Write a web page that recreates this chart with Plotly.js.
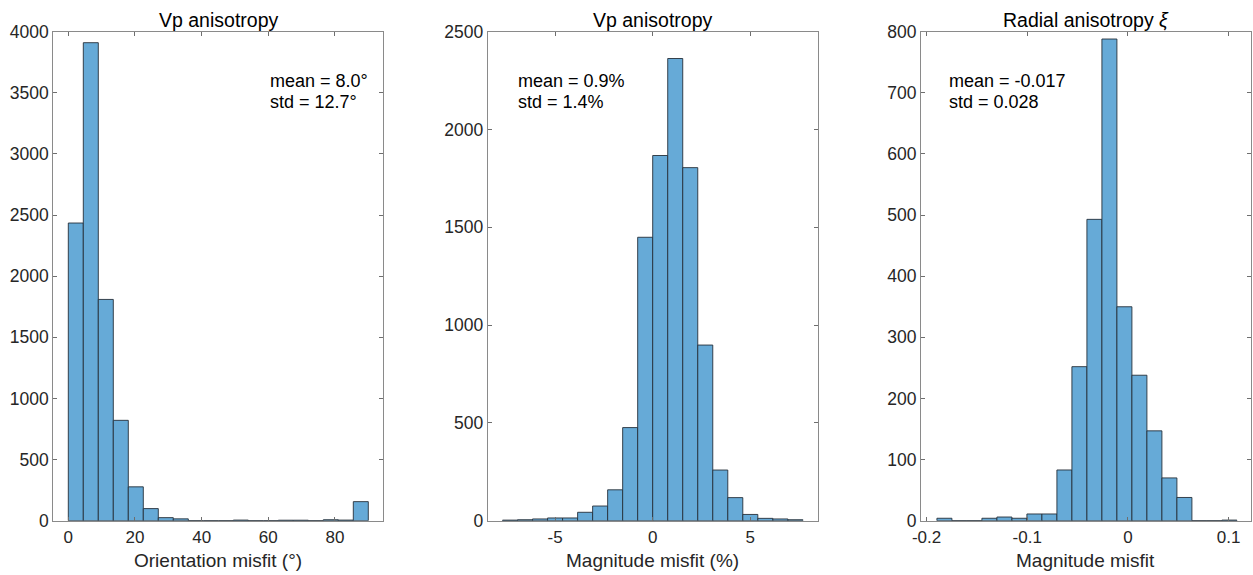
<!DOCTYPE html>
<html>
<head>
<meta charset="utf-8">
<script src="https://cdn.plot.ly/plotly-3.0.1.min.js"></script>
<style>html,body{margin:0;padding:0;background:#fff}#chart{width:1253px;height:575px}</style>
</head>
<body>
<div id="chart"></div>
<script>
// ---- Data ----
const titles = ["Vp anisotropy", "Vp anisotropy", "Radial anisotropy <i>ξ</i>"];
const xLabels = ["Orientation misfit (°)", "Magnitude misfit (%)", "Magnitude misfit"];
const statsMean = ["mean = 8.0°", "mean = 0.9%", "mean = -0.017"];
const statsStd = ["std = 12.7°", "std = 1.4%", "std = 0.028"];

// Panel 1: orientation misfit histogram (degrees)
const orientEdges = [0, 4.5, 9, 13.5, 18, 22.5, 27, 31.5, 36, 40.5, 45, 49.5, 54, 58.5, 63, 67.5, 72, 76.5, 81, 85.5, 90];
const orientCounts = [2435, 3910, 1810, 821, 277, 99, 25, 15, 0, 0, 0, 5, 0, 0, 4, 4, 0, 8, 5, 156];

// Panel 2: Vp magnitude misfit histogram (%)
const vpEdges = [-7.7, -6.93, -6.16, -5.39, -4.62, -3.85, -3.08, -2.31, -1.54, -0.77, 0, 0.77, 1.54, 2.31, 3.08, 3.85, 4.62, 5.39, 6.16, 6.93, 7.7];
const vpCounts = [3, 5, 9, 14, 14, 43, 75, 158, 476, 1449, 1867, 2363, 1805, 898, 259, 118, 32, 12, 9, 5];

// Panel 3: radial anisotropy magnitude misfit histogram
const xiEdges = [-0.1897, -0.1748, -0.1599, -0.145, -0.1301, -0.1152, -0.1003, -0.0854, -0.0705, -0.0556, -0.0407, -0.0258, -0.0109, 0.004, 0.0189, 0.0338, 0.0487, 0.0636, 0.0785, 0.0934, 0.1083];
const xiCounts = [4, 0, 0, 4, 6, 4, 11, 11, 83, 252, 493, 788, 350, 238, 147, 70, 38, 0, 0, 1];

// Axis ticks
const xTicks = [[0, 20, 40, 60, 80], [-5, 0, 5], [-0.2, -0.1, 0, 0.1]];
const xTickText = [["0", "20", "40", "60", "80"], ["-5", "0", "5"], ["-0.2", "-0.1", "0", "0.1"]];
const yTicks = [[0, 500, 1000, 1500, 2000, 2500, 3000, 3500, 4000], [0, 500, 1000, 1500, 2000, 2500], [0, 100, 200, 300, 400, 500, 600, 700, 800]];
const xRanges = [[-4.5, 94.5], [-8.46, 8.46], [-0.2056, 0.1222]];
const yRanges = [[0, 4000], [0, 2500], [0, 800]];

// ---- Build ----
const W = 1253, H = 575;
const FONT = "Liberation Sans, Arial, Helvetica, sans-serif";
const TXT = "#262626";
const plotLeft = [53.3, 487.7, 920.9];
const plotW = 330, plotTop = 31.7, plotBottom = 520.7;
const statX = [268, 516, 946.5];

function barTrace(edges, counts, i) {
  const x = [], w = [];
  for (let k = 0; k < counts.length; k++) {
    x.push((edges[k] + edges[k + 1]) / 2);
    w.push(edges[k + 1] - edges[k]);
  }
  return {
    type: "bar", x: x, y: counts, width: w,
    xaxis: i === 0 ? "x" : "x" + (i + 1),
    yaxis: i === 0 ? "y" : "y" + (i + 1),
    marker: {color: "rgb(102,170,215)", line: {color: "rgb(38,48,58)", width: 0.9}},
    hoverinfo: "x+y", showlegend: false
  };
}

const data = [
  barTrace(orientEdges, orientCounts, 0),
  barTrace(vpEdges, vpCounts, 1),
  barTrace(xiEdges, xiCounts, 2)
];

const layout = {
  width: W, height: H,
  margin: {l: 0, r: 0, t: 0, b: 0},
  paper_bgcolor: "#fff", plot_bgcolor: "#fff",
  bargap: 0,
  font: {family: FONT, size: 18, color: TXT},
  showlegend: false,
  annotations: []
};

for (let i = 0; i < 3; i++) {
  const sfx = i === 0 ? "" : String(i + 1);
  const d0 = plotLeft[i] / W, d1 = (plotLeft[i] + plotW) / W;
  layout["xaxis" + sfx] = {
    domain: [d0, d1], range: xRanges[i], anchor: "y" + sfx,
    tickmode: "array", tickvals: xTicks[i], ticktext: xTickText[i],
    ticks: "inside", ticklen: 4, tickwidth: 1, tickcolor: "#6e6e6e",
    ticklabelstandoff: 1,
    showline: true, linecolor: "#8a8a8a", linewidth: 1, mirror: "ticks",
    showgrid: false, zeroline: false,
    tickfont: {family: FONT, size: 17, color: TXT},
    fixedrange: true
  };
  layout["yaxis" + sfx] = {
    domain: [(H - plotBottom) / H, (H - plotTop) / H], range: yRanges[i], anchor: "x" + sfx,
    tickmode: "array", tickvals: yTicks[i],
    ticks: "inside", ticklen: 4, tickwidth: 1, tickcolor: "#6e6e6e",
    showline: true, linecolor: "#8a8a8a", linewidth: 1, mirror: "ticks",
    showgrid: false, zeroline: false,
    tickfont: {family: FONT, size: 17.5, color: TXT},
    fixedrange: true
  };
  const cx = (plotLeft[i] + plotW / 2) / W;
  layout.annotations.push({
    text: titles[i], xref: "paper", yref: "paper", x: cx, y: (H - 20) / H,
    xanchor: "center", yanchor: "middle", showarrow: false,
    font: {family: FONT, size: 19.5, color: "#000"}
  });
  layout.annotations.push({
    text: xLabels[i], xref: "paper", yref: "paper", x: cx, y: (H - 560) / H,
    xanchor: "center", yanchor: "middle", showarrow: false,
    font: {family: FONT, size: 19, color: TXT}
  });
  layout.annotations.push({
    text: statsMean[i], xref: "paper", yref: "paper", x: statX[i] / W, y: (H - 81.5) / H,
    xanchor: "left", yanchor: "middle", showarrow: false,
    font: {family: FONT, size: 18, color: "#000"}
  });
  layout.annotations.push({
    text: statsStd[i], xref: "paper", yref: "paper", x: statX[i] / W, y: (H - 102) / H,
    xanchor: "left", yanchor: "middle", showarrow: false,
    font: {family: FONT, size: 18, color: "#000"}
  });
}

Plotly.newPlot("chart", data, layout, {displayModeBar: false, staticPlot: true});
</script>
</body>
</html>
